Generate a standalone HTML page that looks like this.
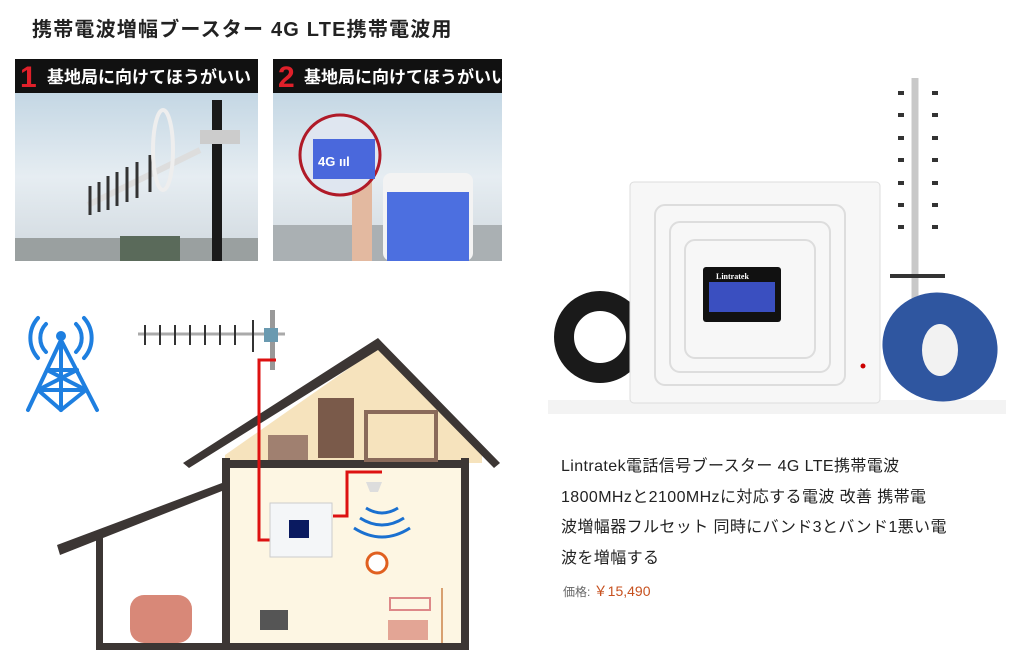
<!DOCTYPE html>
<html><head><meta charset="utf-8"><style>
body{margin:0;width:1024px;height:671px;background:#fff;overflow:hidden;position:relative;font-family:"Liberation Sans","Noto Sans CJK JP",sans-serif}
.t{position:absolute;white-space:nowrap}
</style></head><body>
<div class="t" style="left:32px;top:13px;font-size:20px;font-weight:bold;color:#222;letter-spacing:1.2px">携帯電波増幅ブースター 4G LTE携帯電波用</div>

<svg width="1024" height="671" style="position:absolute;left:0;top:0" xmlns="http://www.w3.org/2000/svg">
<defs>
<linearGradient id="sky" x1="0" y1="0" x2="0" y2="1"><stop offset="0" stop-color="#c4d7e4"/><stop offset="0.5" stop-color="#e6edf2"/><stop offset="1" stop-color="#d0d8de"/></linearGradient>
</defs>
<!-- panel 1 -->
<rect x="15" y="93" width="243" height="168" fill="url(#sky)"/>
<rect x="15" y="59" width="243" height="34" fill="#111"/>
<text x="20" y="87" font-size="30" font-weight="bold" fill="#e0202a" font-family="Liberation Sans">1</text>
<text x="47" y="83" font-size="17" font-weight="bold" fill="#fff" font-family="Liberation Sans,Noto Sans CJK JP,sans-serif">基地局に向けてほうがいい</text>
<rect x="15" y="238" width="243" height="23" fill="#9aa0a0"/>
<rect x="120" y="236" width="60" height="25" fill="#5a6a5a"/>
<rect x="212" y="100" width="10" height="161" fill="#1a1a1a"/>
<line x1="88" y1="205" x2="200" y2="150" stroke="#ddd" stroke-width="6"/>
<g stroke="#333" stroke-width="3">
<line x1="90" y1="186" x2="90" y2="215"/><line x1="99" y1="182" x2="99" y2="212"/><line x1="108" y1="176" x2="108" y2="210"/><line x1="117" y1="172" x2="117" y2="206"/><line x1="127" y1="167" x2="127" y2="202"/><line x1="137" y1="162" x2="137" y2="198"/><line x1="150" y1="155" x2="150" y2="192"/>
</g>
<ellipse cx="163" cy="150" rx="10" ry="40" fill="none" stroke="#eee" stroke-width="4"/>
<rect x="200" y="130" width="40" height="14" fill="#ccc"/>
<!-- panel 2 -->
<rect x="273" y="93" width="229" height="168" fill="url(#sky)"/>
<rect x="273" y="59" width="229" height="34" fill="#111"/>
<text x="278" y="87" font-size="30" font-weight="bold" fill="#e0202a" font-family="Liberation Sans">2</text>
<text x="304" y="83" font-size="17" font-weight="bold" fill="#fff" font-family="Liberation Sans,Noto Sans CJK JP,sans-serif">基地局に向けてほうがいい</text>
<rect x="273" y="225" width="229" height="36" fill="#aab0b3"/>
<rect x="352" y="175" width="20" height="86" fill="#e3b9a0"/>
<rect x="383" y="173" width="90" height="88" rx="8" fill="#f3f3f3"/>
<rect x="387" y="192" width="82" height="69" fill="#4c6fe0"/>
<circle cx="340" cy="155" r="40" fill="#dfe6f0" stroke="#b01a28" stroke-width="3"/>
<rect x="313" y="139" width="62" height="40" fill="#4a68dc"/>
<text x="318" y="166" font-size="13" font-weight="bold" fill="#fff" font-family="Liberation Sans">4G ııl</text>
<!-- tower icon -->
<g stroke="#1e7fe0" stroke-width="4" fill="none" stroke-linecap="round">
<line x1="61" y1="340" x2="28" y2="410"/><line x1="61" y1="340" x2="97" y2="410"/><line x1="61" y1="340" x2="61" y2="410"/>
<line x1="47" y1="370" x2="77" y2="370"/><line x1="38" y1="390" x2="86" y2="390"/>
<line x1="47" y1="370" x2="86" y2="390"/><line x1="77" y1="370" x2="38" y2="390"/>
<line x1="38" y1="390" x2="61" y2="410"/><line x1="86" y1="390" x2="61" y2="410"/>
<path d="M46 324 a20 20 0 0 0 0 28"/><path d="M76 324 a20 20 0 0 1 0 28"/>
<path d="M38 318 a30 30 0 0 0 0 40"/><path d="M84 318 a30 30 0 0 1 0 40"/>
</g>
<circle cx="61" cy="336" r="5" fill="#1e7fe0"/>
<!-- house -->
<polygon points="378,348 482,455 482,463 225,463 225,455" fill="#f6e3bd"/>
<rect x="230" y="468" width="231" height="176" fill="#fdf6e3"/>
<rect x="103" y="540" width="119" height="104" fill="#fff"/>
<g fill="#3c3634">
<polygon points="183,463 378,338 500,463 494,468 378,350 189,468"/>
<rect x="222" y="458" width="8" height="192"/>
<rect x="461" y="458" width="8" height="192"/>
<rect x="222" y="460" width="247" height="8"/>
<rect x="96" y="643" width="373" height="7"/>
<polygon points="57,545 222,483 222,491 60,555"/>
<rect x="96" y="538" width="7" height="110"/>
</g>
<!-- antenna -->
<rect x="270" y="310" width="5" height="60" fill="#999"/>
<line x1="138" y1="334" x2="285" y2="334" stroke="#aaa" stroke-width="3"/>
<g stroke="#333" stroke-width="2"><line x1="145" y1="325" x2="145" y2="345"/><line x1="160" y1="325" x2="160" y2="345"/><line x1="175" y1="325" x2="175" y2="345"/><line x1="190" y1="325" x2="190" y2="345"/><line x1="205" y1="325" x2="205" y2="345"/><line x1="220" y1="325" x2="220" y2="345"/><line x1="235" y1="325" x2="235" y2="345"/><line x1="253" y1="320" x2="253" y2="352"/></g>
<rect x="264" y="328" width="14" height="14" fill="#6a9ab0"/>
<!-- cable -->
<polyline points="276,360 259,360 259,540 270,540" fill="none" stroke="#d11" stroke-width="3"/>
<polyline points="333,516 347,516 347,472 382,472" fill="none" stroke="#d11" stroke-width="3"/>
<!-- booster -->
<rect x="270" y="503" width="62" height="54" fill="#f4f6f8" stroke="#ccc"/>
<rect x="289" y="520" width="20" height="18" fill="#0a1a60"/>
<path d="M366 482 l16 0 l-4 10 l-8 0 z" fill="#ddd"/>
<g stroke="#1a70d0" stroke-width="3" fill="none"><path d="M366 508 q16 10 32 0"/><path d="M360 518 q22 14 44 0"/><path d="M354 528 q28 18 56 0"/></g>
<circle cx="377" cy="563" r="10" fill="#fff" stroke="#e06020" stroke-width="3"/>
<!-- car -->
<rect x="130" y="595" width="62" height="48" rx="14" fill="#d88878"/>
<rect x="260" y="610" width="28" height="20" fill="#555"/>
<rect x="390" y="598" width="40" height="12" fill="none" stroke="#d88" stroke-width="2"/>
<rect x="388" y="620" width="40" height="20" fill="#e3a595"/>
<line x1="442" y1="588" x2="442" y2="643" stroke="#d8a070" stroke-width="2"/>
<!-- attic furniture -->
<rect x="318" y="398" width="36" height="60" fill="#7a5a4a"/>
<rect x="366" y="412" width="70" height="48" fill="none" stroke="#8a6a5a" stroke-width="4"/>
<rect x="268" y="435" width="40" height="25" fill="#a08070"/>

<!-- product photo -->
<rect x="548" y="400" width="458" height="14" fill="#f3f3f3"/>
<line x1="915" y1="78" x2="915" y2="310" stroke="#c8c8c8" stroke-width="7"/>
<g stroke="#333" stroke-width="4">
<line x1="898" y1="93" x2="904" y2="93"/><line x1="932" y1="93" x2="938" y2="93"/>
<line x1="898" y1="115" x2="904" y2="115"/><line x1="932" y1="115" x2="938" y2="115"/>
<line x1="898" y1="138" x2="904" y2="138"/><line x1="932" y1="138" x2="938" y2="138"/>
<line x1="898" y1="160" x2="904" y2="160"/><line x1="932" y1="160" x2="938" y2="160"/>
<line x1="898" y1="183" x2="904" y2="183"/><line x1="932" y1="183" x2="938" y2="183"/>
<line x1="898" y1="205" x2="904" y2="205"/><line x1="932" y1="205" x2="938" y2="205"/>
<line x1="898" y1="227" x2="904" y2="227"/><line x1="932" y1="227" x2="938" y2="227"/>
<line x1="890" y1="276" x2="945" y2="276"/>
</g>
<circle cx="600" cy="337" r="36" fill="none" stroke="#1a1a1a" stroke-width="20"/>
<rect x="630" y="182" width="250" height="221" rx="4" fill="#f7f7f7" stroke="#ddd"/>
<g fill="none" stroke="#ddd" stroke-width="2">
<rect x="655" y="205" width="190" height="180" rx="10"/><rect x="670" y="222" width="160" height="150" rx="10"/><rect x="685" y="240" width="130" height="118" rx="10"/>
</g>
<rect x="703" y="267" width="78" height="55" rx="3" fill="#111"/>
<rect x="709" y="282" width="66" height="30" fill="#3a4fc0"/>
<text x="716" y="279" font-size="8" font-weight="bold" fill="#fff" font-family="Liberation Serif">Lintratek</text>
<ellipse cx="940" cy="347" rx="58" ry="54" fill="#2f56a0" transform="rotate(20 940 347)"/>
<ellipse cx="940" cy="350" rx="18" ry="26" fill="#f2f2f2"/>
<circle cx="863" cy="366" r="2.5" fill="#c00"/>
</svg>

<div class="t" style="left:561px;top:452px;font-size:16px;letter-spacing:0.4px;color:#222;line-height:30.5px;white-space:normal;width:440px">Lintratek電話信号ブースター 4G LTE携帯電波<br>1800MHzと2100MHzに対応する電波 改善 携帯電<br>波増幅器フルセット 同時にバンド3とバンド1悪い電<br>波を増幅する</div>
<div class="t" style="left:563px;top:581px;font-size:12px;color:#666">価格: <span style="font-size:14px;color:#c7511f">￥15,490</span></div>
</body></html>
